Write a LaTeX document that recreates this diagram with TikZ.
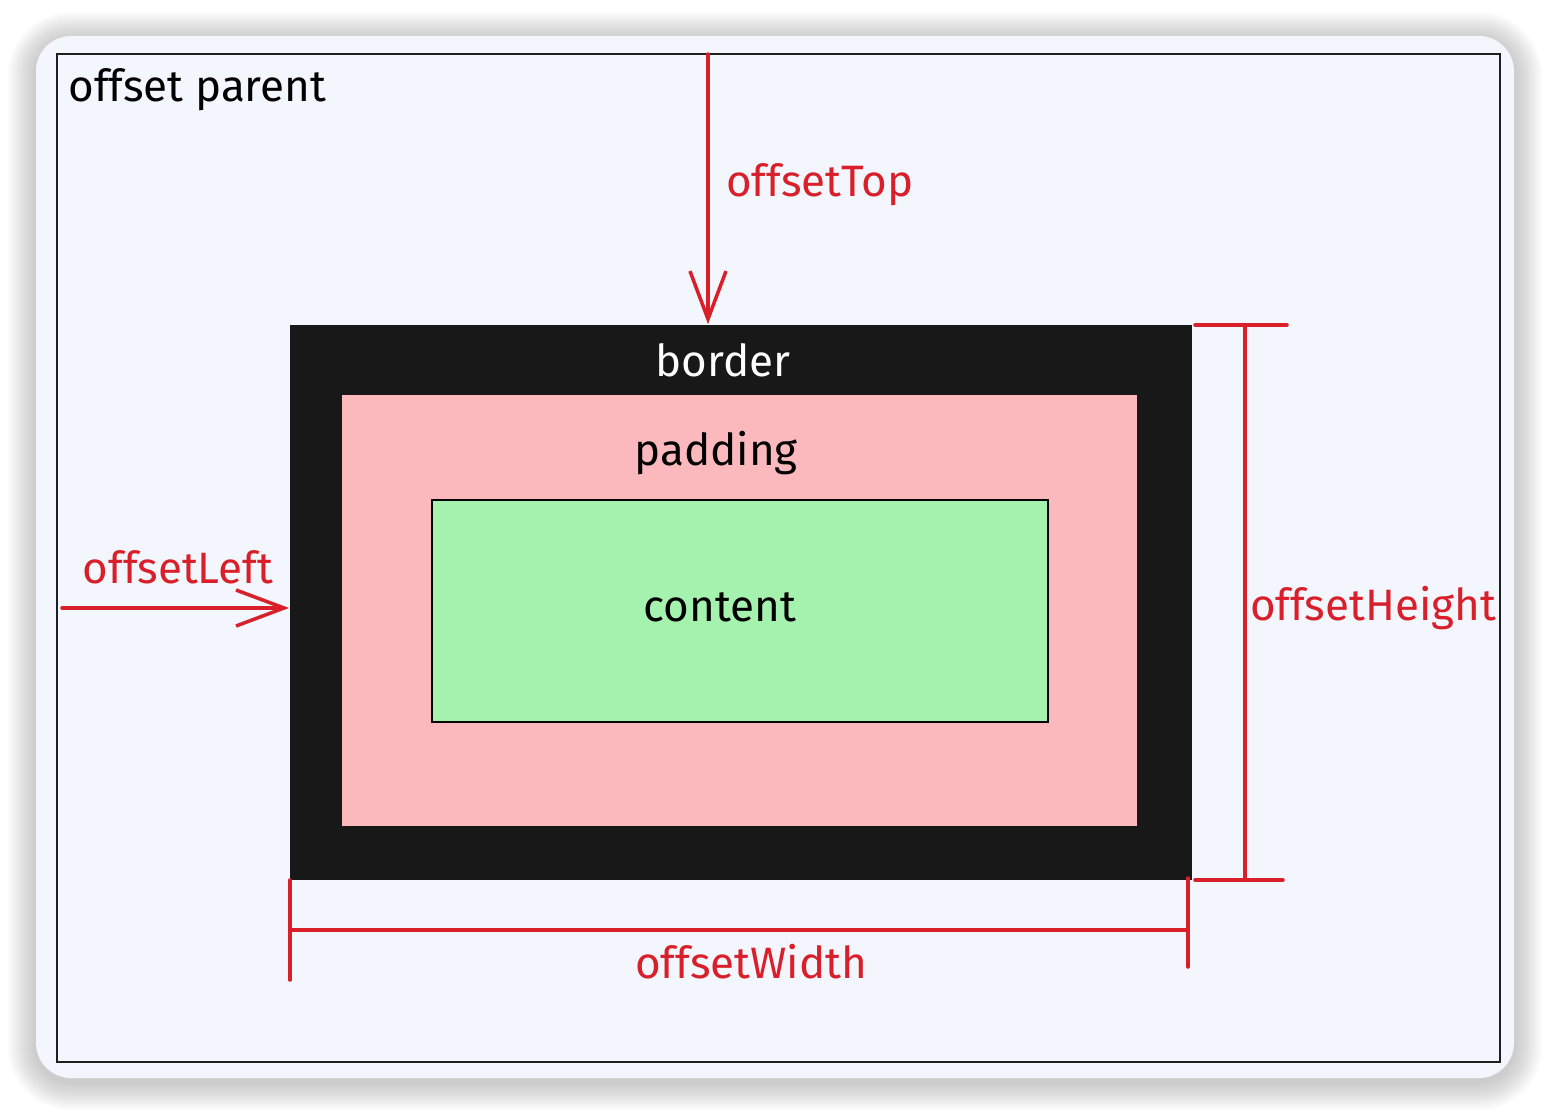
\documentclass[tikz,border=0pt]{standalone}
\usepackage{fontspec}
\setmainfont{Fira Sans}
\usetikzlibrary{arrows.meta}
\definecolor{cardbg}{HTML}{F3F7FD}
\definecolor{inkred}{HTML}{D81F2A}
\definecolor{borderblack}{HTML}{181818}
\definecolor{padpink}{HTML}{FBB9BD}
\definecolor{contgreen}{HTML}{A5F1AE}
\tikzset{
  measure/.style={draw=inkred,line width=1pt,line cap=round},
  pointer/.style={measure,-{Straight Barb[length=4.8mm,width=3.6mm,line width=1pt]}},
  redlabel/.style={text=inkred,font=\fontsize{12.5}{14}\selectfont},
  boxlabel/.style={font=\fontsize{12.5}{14}\selectfont},
}
\begin{document}
\begin{tikzpicture}[x=0.01cm,y=-0.01cm]
        \useasboundingbox (0,0) rectangle (1550,1114);
        %% Card with soft shadow
        \foreach \s in {1,...,14}
          \fill[black,opacity=0.014,rounded corners=10pt+2*\s*0.28pt] (36-2*\s,40-2*\s) rectangle (1514+2*\s,1082+2*\s);
        \fill[cardbg,rounded corners=10pt] (36,36) rectangle (1514,1078);
        %% Offset parent
        \node[draw=black!88,line width=0.6pt,minimum width=14.43cm,minimum height=10.08cm,inner sep=0pt] (parent) at (778.5,558) {};
        \node[boxlabel,anchor=west] (parentlabel) at (56,90) {offset parent};
        %% Border, padding, content
        \node[fill=borderblack,minimum width=9.02cm,minimum height=5.55cm,inner sep=0pt] (border) at (741,602.5) {};
        \node[fill=padpink,minimum width=7.95cm,minimum height=4.31cm,inner sep=0pt] (padding) at (739.5,610.5) {};
        \node[draw=black,fill=contgreen,line width=0.5pt,minimum width=6.16cm,minimum height=2.22cm,inner sep=0pt] (content) at (740,611) {};
        \node[boxlabel,text=white] (borderlabel) at (723,360) {border};
        \node[boxlabel] (paddinglabel) at (716,453) {padding};
        \node[boxlabel] (contentlabel) at (720,607) {content};
        %% offsetTop
        \coordinate (topstart) at (708,54);
        \draw[pointer] (topstart) -- (topstart |- border.north);
        \node[redlabel] (toplabel) at (820,185) {offsetTop};
        %% offsetLeft
        \coordinate (leftstart) at (62,608);
        \draw[pointer] (leftstart) -- (leftstart -| border.west);
        \node[redlabel] (leftlabel) at (178,567) {offsetLeft};
        %% offsetHeight
        \coordinate (htop) at (1245,325);
        \coordinate (hbot) at (1245,880);
        \draw[measure] (1195,325) -- (1287,325);
        \draw[measure] (1195,880) -- (1283,880);
        \draw[measure] (htop) -- (hbot);
        \node[redlabel] (heightlabel) at (1373,608) {offsetHeight};
        %% offsetWidth
        \coordinate (wleft) at (290,930);
        \coordinate (wright) at (1188,930);
        \draw[measure] (290,880) -- (290,980);
        \draw[measure] (1188,878) -- (1188,967);
        \draw[measure] (wleft) -- (wright);
        \node[redlabel] (widthlabel) at (751,962) {offsetWidth};
\end{tikzpicture}
\end{document}
